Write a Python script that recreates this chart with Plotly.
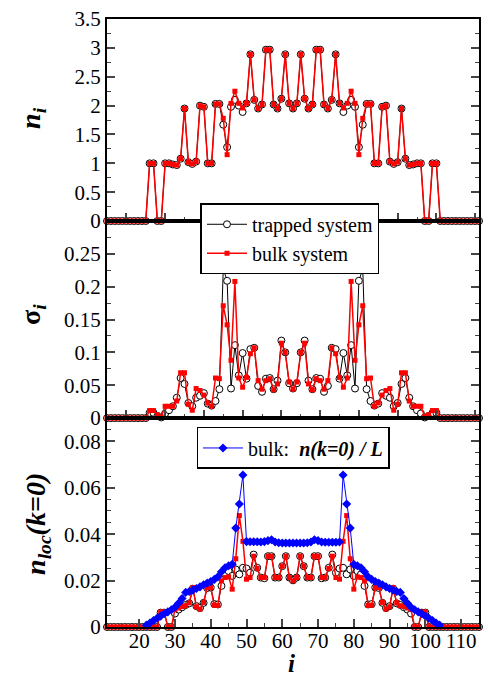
import plotly.graph_objects as go

# lattice sites
sites = list(range(11, 116))

# density n_i (top panel)
n_trapped = [0]*15 + [
    1.0, 1.0, 0, 0, 1.0, 1.0, 0.98, 0.97, 1.08, 1.95,          # 26-35
    1.02, 0.99, 1.03, 2.0, 1.98, 1.0, 1.0, 2.03, 2.03, 1.67,    # 36-45
    1.28, 1.98, 2.10, 2.0, 1.89, 2.04, 2.89, 2.10, 1.95, 2.02,  # 46-55
    2.97, 2.97, 2.02, 1.95, 2.12, 2.89, 2.04, 1.95, 2.04, 2.89, # 56-65
    2.12, 1.95, 2.02, 2.97, 2.97, 2.02, 1.95, 2.10, 2.89, 2.04, # 66-75
    1.89, 2.0, 2.10, 1.98, 1.28, 1.67, 2.03, 2.03, 1.0, 1.0,    # 76-85
    1.98, 2.0, 1.03, 0.99, 1.02, 1.95, 1.08, 0.97, 0.98, 1.0,   # 86-95
    1.0, 0, 0, 1.0, 1.0] + [0]*15                               # 96-100
n_bulk = [0]*15 + [
    1.0, 1.0, 0, 0, 1.0, 1.0, 0.98, 0.97, 1.08, 1.95,
    1.02, 0.99, 1.03, 2.0, 1.98, 1.0, 1.0, 2.03, 2.03, 1.78,
    1.15, 2.04, 2.25, 2.04, 1.96, 2.04, 2.89, 2.10, 1.95, 2.02,
    2.97, 2.97, 2.02, 1.95, 2.12, 2.89, 2.04, 1.95, 2.04, 2.89,
    2.12, 1.95, 2.02, 2.97, 2.97, 2.02, 1.95, 2.10, 2.89, 2.04,
    1.96, 2.04, 2.25, 2.04, 1.15, 1.78, 2.03, 2.03, 1.0, 1.0,
    1.98, 2.0, 1.03, 0.99, 1.02, 1.95, 1.08, 0.97, 0.98, 1.0,
    1.0, 0, 0, 1.0, 1.0] + [0]*15

# fluctuation sigma_i (middle panel)
sigma_trapped = [0]*15 + [
    0.008, 0.008, 0.003, 0.001, 0.007, 0.012, 0.018, 0.031, 0.061, 0.052,
    0.023, 0.018, 0.031, 0.034, 0.038, 0.022, 0.019, 0.026, 0.044, 0.227,
    0.209, 0.045, 0.111, 0.065, 0.099, 0.060, 0.105, 0.107, 0.049, 0.040,
    0.060, 0.061, 0.044, 0.057, 0.118, 0.100, 0.053, 0.045, 0.053, 0.100,
    0.118, 0.057, 0.044, 0.061, 0.060, 0.040, 0.049, 0.107, 0.105, 0.060,
    0.099, 0.065, 0.111, 0.045, 0.209, 0.227, 0.044, 0.026, 0.019, 0.022,
    0.038, 0.034, 0.031, 0.018, 0.023, 0.052, 0.061, 0.031, 0.018, 0.012,
    0.007, 0.001, 0.003, 0.008, 0.008] + [0]*15
sigma_bulk = [0]*15 + [
    0.0115, 0.0115, 0.005, 0.002, 0.018, 0.018, 0.018, 0.026, 0.069, 0.069,
    0.021, 0.012, 0.045, 0.042, 0.035, 0.023, 0.018, 0.061, 0.060, 0.171,
    0.142, 0.088, 0.208, 0.061, 0.047, 0.062, 0.098, 0.107, 0.057, 0.044,
    0.057, 0.060, 0.043, 0.052, 0.114, 0.100, 0.055, 0.044, 0.055, 0.100,
    0.114, 0.052, 0.043, 0.060, 0.057, 0.044, 0.057, 0.107, 0.098, 0.062,
    0.047, 0.061, 0.208, 0.088, 0.142, 0.171, 0.060, 0.061, 0.018, 0.023,
    0.035, 0.042, 0.045, 0.012, 0.021, 0.069, 0.069, 0.026, 0.018, 0.018,
    0.018, 0.002, 0.005, 0.0115, 0.0115] + [0]*15

# local condensate n_loc(k=0) (bottom panel)
nloc_trapped = [0]*15 + [
    0.0062, 0.0062, 0, 0, 0.0058, 0.0075, 0.0085, 0.0095, 0.0102, 0.0165,
    0.0090, 0.0082, 0.0104, 0.0168, 0.0170, 0.0099, 0.0097, 0.0177, 0.0227, 0.0241,
    0.0220, 0.0248, 0.0227, 0.0255, 0.0252, 0.0234, 0.0312, 0.0255, 0.0213, 0.0210,
    0.0305, 0.0305, 0.0213, 0.0213, 0.0262, 0.0305, 0.0213, 0.0201, 0.0213, 0.0305,
    0.0262, 0.0213, 0.0213, 0.0305, 0.0305, 0.0210, 0.0213, 0.0255, 0.0312, 0.0234,
    0.0252, 0.0255, 0.0227, 0.0248, 0.0220, 0.0241, 0.0227, 0.0177, 0.0097, 0.0099,
    0.0170, 0.0168, 0.0104, 0.0082, 0.0090, 0.0165, 0.0102, 0.0095, 0.0085, 0.0075,
    0.0058, 0, 0, 0.0062, 0.0062] + [0]*15
nloc_bulk = [0]*15 + [
    0.0065, 0.0065, 0, 0, 0.0075, 0.0082, 0.0088, 0.0092, 0.0104, 0.0170,
    0.0087, 0.0077, 0.0106, 0.0170, 0.0170, 0.0094, 0.0093, 0.0199, 0.0213, 0.0216,
    0.0163, 0.0294, 0.0480, 0.0369, 0.0206, 0.0213, 0.0305, 0.0252, 0.0213, 0.0213,
    0.0305, 0.0305, 0.0213, 0.0213, 0.0262, 0.0305, 0.0213, 0.0199, 0.0213, 0.0305,
    0.0262, 0.0213, 0.0213, 0.0305, 0.0305, 0.0213, 0.0213, 0.0252, 0.0305, 0.0213,
    0.0206, 0.0369, 0.0480, 0.0294, 0.0163, 0.0216, 0.0213, 0.0199, 0.0093, 0.0094,
    0.0170, 0.0170, 0.0106, 0.0077, 0.0087, 0.0170, 0.0104, 0.0092, 0.0088, 0.0082,
    0.0075, 0, 0, 0.0065, 0.0065] + [0]*15

# bulk n(k=0)/L
blue_sites = list(range(22, 105))
nk0_bulk = [
    0.0008, 0.0017, 0.0028, 0.0038, 0.0047, 0.0057, 0.0065, 0.0074, 0.0085, 0.0102,  # 22-31
    0.0123, 0.0149, 0.0153, 0.0159, 0.0166, 0.0173, 0.0182, 0.0189, 0.0196, 0.0205,  # 32-41
    0.0216, 0.0238, 0.0255, 0.0264, 0.0270, 0.0426, 0.0530, 0.0655, 0.0368, 0.0367,  # 42-51
    0.0367, 0.0367, 0.0366, 0.0368, 0.0372, 0.0376, 0.0366, 0.0363, 0.0362, 0.0362,  # 52-61
    0.0362, 0.0362, 0.0362, 0.0362, 0.0362, 0.0363, 0.0366, 0.0376, 0.0372, 0.0366,  # 62-71
    0.0365, 0.0365, 0.0365, 0.0365, 0.0366, 0.0655, 0.0530, 0.0426, 0.0270, 0.0264,  # 72-81
    0.0255, 0.0238, 0.0216, 0.0205, 0.0196, 0.0189, 0.0182, 0.0173, 0.0166, 0.0159,  # 82-91
    0.0153, 0.0149, 0.0123, 0.0102, 0.0085, 0.0074, 0.0065, 0.0057, 0.0047, 0.0038,  # 92-101
    0.0028, 0.0017, 0.0008]                                                          # 102-104

x_ticks = [20, 30, 40, 50, 60, 70, 80, 90, 100, 110]
sigma_ticks = [0, 0.05, 0.1, 0.15, 0.2, 0.25]

FONT = "Liberation Serif"

def sub(lo, hi, xs, ys):
    pairs = [(a, b) for a, b in zip(xs, ys) if lo <= a <= hi]
    return [p[0] for p in pairs], [p[1] for p in pairs]

fig = go.Figure()

def add_pair(xa, ya, lo, hi, yt, yb, show):
    xt, vt = sub(lo, hi, sites, yt)
    xb, vb = sub(lo, hi, sites, yb)
    fig.add_trace(go.Scatter(x=xt, y=vt, xaxis=xa, yaxis=ya, mode="lines+markers",
                             name="trapped system", legendgroup="t", showlegend=show,
                             line=dict(color="black", width=1),
                             marker=dict(symbol="circle", size=7, color="white",
                                         line=dict(color="black", width=1)),
                             cliponaxis=False))
    fig.add_trace(go.Scatter(x=xb, y=vb, xaxis=xa, yaxis=ya, mode="lines+markers",
                             name="bulk system", legendgroup="b", showlegend=show,
                             line=dict(color="red", width=1.5),
                             marker=dict(symbol="square", size=5, color="red"),
                             cliponaxis=False))

add_pair("x", "y", 15, 111, n_trapped, n_bulk, True)
add_pair("x2", "y2", 15, 111, sigma_trapped, sigma_bulk, False)
add_pair("x3", "y3", 11, 115, nloc_trapped, nloc_bulk, False)

fig.add_trace(go.Scatter(x=blue_sites, y=nk0_bulk, xaxis="x3", yaxis="y3",
                         mode="lines+markers", legend="legend2",
                         name="bulk:  <b><i>n(k=0) / L</i></b>",
                         line=dict(color="blue", width=1),
                         marker=dict(symbol="diamond", size=7, color="blue"),
                         cliponaxis=False))

H = 617.0
d_bot = [0, 212 / H]
d_mid = [212 / H, 412 / H]
d_top = [412 / H, 1]

def xax(anchor, rng, labels):
    return dict(domain=[0, 1], anchor=anchor, range=rng, tickmode="array",
                tickvals=x_ticks, ticks="inside", ticklen=8, tickwidth=1.5,
                showticklabels=labels, showline=True, linewidth=2, linecolor="black",
                mirror=True, showgrid=False, zeroline=False, ticklabelstandoff=-6,
                minor=dict(dtick=5, tick0=0, ticks="inside", ticklen=4, tickwidth=1.2,
                           showgrid=False),
                tickfont=dict(family=FONT, size=21, color="black"))

def yax(anchor, dom, rng, dtick, mdtick, tickvals=None):
    d = dict(domain=dom, anchor=anchor, range=rng, dtick=dtick, tick0=0,
             ticks="inside", ticklen=8, tickwidth=1.5, showline=True, linewidth=2,
             linecolor="black", mirror="ticks", showgrid=False, zeroline=False,
             ticklabeloverflow="allow",
             minor=dict(dtick=mdtick, tick0=0, ticks="inside", ticklen=4, tickwidth=1.2,
                        showgrid=False),
             tickfont=dict(family=FONT, size=21, color="black"))
    if tickvals is not None:
        d.update(tickmode="array", tickvals=tickvals)
    return d

fig.update_layout(
    width=488, height=679,
    margin=dict(l=107, r=7, t=10, b=52),
    paper_bgcolor="white", plot_bgcolor="white",
    font=dict(family=FONT, color="black"),
    xaxis=xax("y", [15, 111], False),
    xaxis2=xax("y2", [15, 111], False),
    xaxis3=xax("y3", [11, 115], True),
    yaxis=yax("x", d_top, [0, 3.502], 0.5, 0.25),
    yaxis2=yax("x2", d_mid, [0, 0.3], 0.05, 0.025, sigma_ticks),
    yaxis3=yax("x3", d_bot, [0, 0.09], 0.02, 0.005),
    legend=dict(x=(201 - 107) / 374, y=(627 - 197) / H, xanchor="left", yanchor="top",
                bgcolor="white", bordercolor="black", borderwidth=1.5,
                font=dict(family=FONT, size=20, color="black"),
                tracegroupgap=0, itemwidth=40),
    legend2=dict(x=(197 - 107) / 374, y=(627 - 424) / H, xanchor="left", yanchor="top",
                 bgcolor="white", bordercolor="black", borderwidth=1.5,
                 font=dict(family=FONT, size=20, color="black"), itemwidth=40),
    showlegend=True,
)

ann = dict(xref="paper", yref="paper", showarrow=False, xanchor="center",
           yanchor="middle", font=dict(family=FONT, size=28, color="black"))
fig.add_annotation(text="<b><i>n<sub>i</sub></i></b>", x=(32 - 107) / 374,
                   y=(627 - 110) / H, textangle=-90, **ann)
fig.add_annotation(text="<b>σ<sub><i>i</i></sub></b>", x=(32 - 107) / 374,
                   y=(627 - 310) / H, textangle=-90, **ann)
fig.add_annotation(text="<b><i>n<sub>loc</sub>(k=0)</i></b>", x=(37 - 107) / 374,
                   y=(627 - 522) / H, textangle=-90, **ann)
fig.add_annotation(text="<b><i>i</i></b>", x=(292 - 107) / 374,
                   y=(627 - 664) / H, xref="paper", yref="paper", showarrow=False,
                   xanchor="center", yanchor="middle",
                   font=dict(family=FONT, size=25, color="black"))

# remove the default 8px page margin so the figure sits at the window's corner
fig.write_html("out.html", config={"displayModeBar": False},
               post_script="document.body.style.margin='0';")
